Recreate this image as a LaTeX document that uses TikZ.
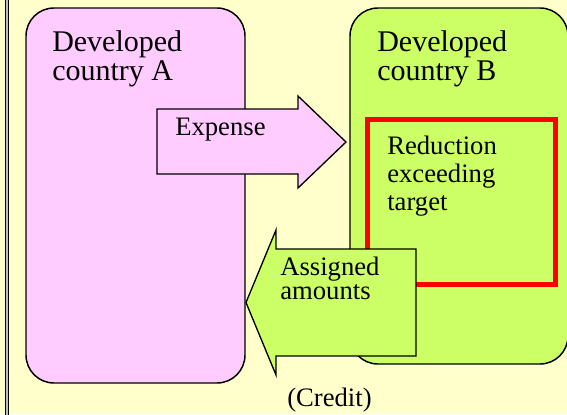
\documentclass[tikz,border=0pt]{standalone}
\usepackage{fontspec}
\setmainfont{Liberation Serif}
\newfontfamily\timesfont{Liberation Serif}
\definecolor{paper}{HTML}{FFFFCC}
\definecolor{pinkA}{HTML}{FFCCFF}
\definecolor{greenB}{HTML}{CCFF66}
\tikzset{>=stealth}
\tikzset{
  country/.style={draw, line width=1.1pt, rounded corners=21pt},
  blockarrow/.style={draw, line width=1pt},
  caption/.style={anchor=base west, inner sep=0pt, align=left}
}

\begin{document}
\begin{tikzpicture}[x=0.75pt, y=-0.75pt]
    \useasboundingbox[fill=paper] (0,0) rectangle (567,414);
    \draw [line width=0.75pt, double=gray!50, double distance=1.5pt] (7,-2) -- (7,416);
    % countries
    \draw [country, fill=pinkA] (26,8) rectangle (245,383);
    \draw [country, fill=greenB] (350,8) rectangle (568,364);
    \node (titleA) at (52,80) [caption, font=\timesfont\fontsize{22.5}{21.75}\selectfont] {Developed\\country A};
    \node (titleB) at (377,80) [caption, font=\timesfont\fontsize{22.5}{21.75}\selectfont] {Developed\\country B};
    % expense arrow
    \coordinate (E) at (346,142);
    \draw [blockarrow, fill=pinkA] (157,109) -- (298,109) -- (298,96) -- (E) -- (298,188) -- (298,174) -- (157,174) -- cycle;
    \node (expense) at (175,135) [caption, font=\timesfont\fontsize{20}{21}\selectfont] {Expense};
    % reduction
    \draw [red, line width=3.75pt] (367.5,119.5) rectangle (555.5,284.5);
    \node (reduction) at (387,210) [caption, font=\timesfont\fontsize{20}{21}\selectfont] {Reduction\\exceeding\\target};
    % assigned amounts arrow
    \coordinate (C) at (246,302.5);
    \draw [blockarrow, fill=greenB] (416,249) -- (276,249) -- (276,230) -- (C) -- (276,375) -- (276,356) -- (416,356) -- cycle;
    \node (assigned) at (280,299) [caption, font=\timesfont\fontsize{20}{18}\selectfont] {Assigned\\amounts};
    \node (credit) at (287,406) [caption, font=\timesfont\fontsize{20}{21}\selectfont] {(Credit)};
\end{tikzpicture}
\end{document}
